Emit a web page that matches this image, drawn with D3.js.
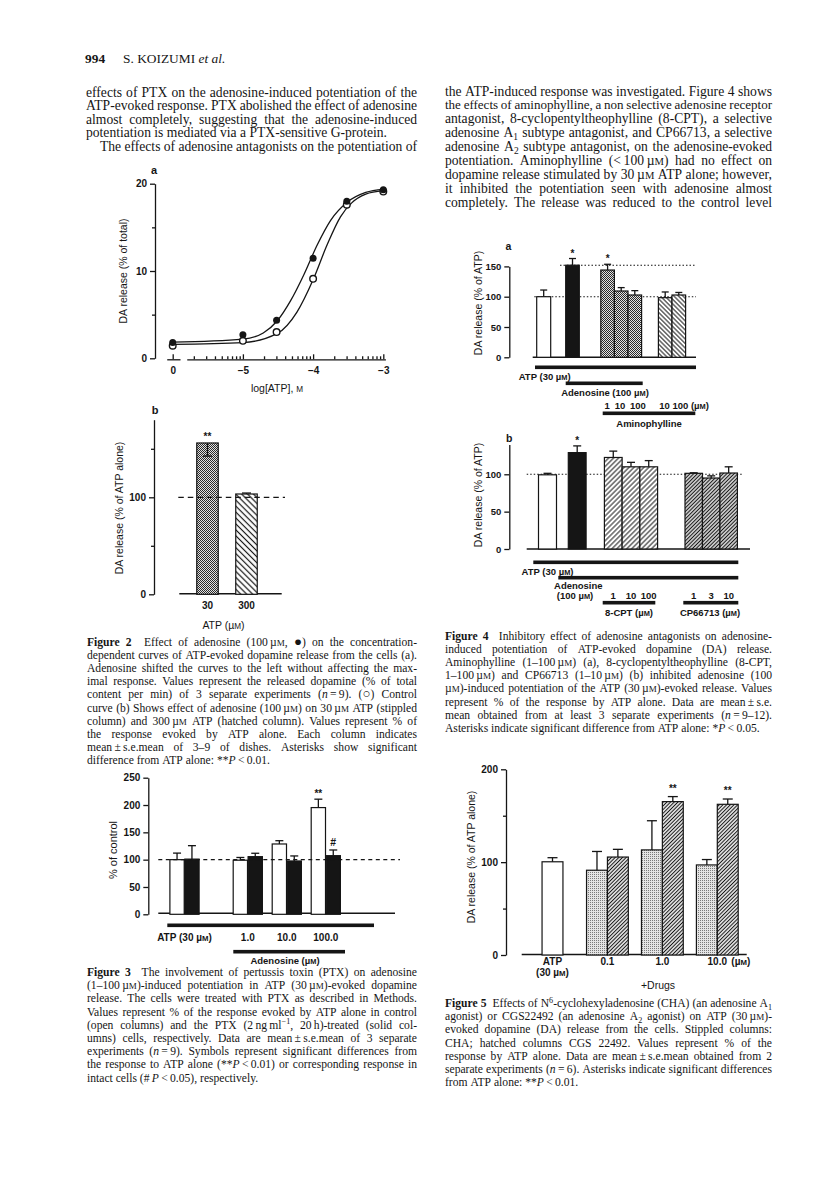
<!DOCTYPE html>
<html><head><meta charset="utf-8">
<script src="https://cdn.jsdelivr.net/npm/d3@7"></script>
<style>body{margin:0;background:#fff}svg{display:block}</style>
</head><body><svg id="page" width="816" height="1182"></svg>
<script>
// ================= DATA =================
const headerPage = "994";
const headerAuthor = "S. KOIZUMI <i>et al.</i>";

const leftBodyLines = [
 "effects of PTX on the adenosine-induced potentiation of the",
 "ATP-evoked response. PTX abolished the effect of adenosine",
 "almost completely, suggesting that the adenosine-induced",
 "potentiation is mediated via a PTX-sensitive G-protein.",
 "The effects of adenosine antagonists on the potentiation of"
];
const rightBodyLines = [
 "the ATP-induced response was investigated. Figure 4 shows",
 "the effects of aminophylline, a non selective adenosine receptor",
 "antagonist, 8-cyclopentyltheophylline (8-CPT), a selective",
 "adenosine A<sub>1</sub> subtype antagonist, and CP66713, a selective",
 "adenosine A<sub>2</sub> subtype antagonist, on the adenosine-evoked",
 "potentiation. Aminophylline (<\u2009100\u2009µ<sc>M</sc>) had no effect on",
 "dopamine release stimulated by 30\u2009µ<sc>M</sc> ATP alone; however,",
 "it inhibited the potentiation seen with adenosine almost",
 "completely. The release was reduced to the control level"
];
const fig2Caption = [
 "<b>Figure 2</b>  Effect of adenosine (100\u2009µ<sc>M</sc>, <big>\u25CF</big>) on the concentration-",
 "dependent curves of ATP-evoked dopamine release from the cells (a).",
 "Adenosine shifted the curves to the left without affecting the max-",
 "imal response. Values represent the released dopamine (% of total",
 "content per min) of 3 separate experiments (<i>n</i>\u2009=\u20099). (<big>\u25CB</big>) Control",
 "curve (b) Shows effect of adenosine (100\u2009µ<sc>M</sc>) on 30\u2009µ<sc>M</sc> ATP (stippled",
 "column) and 300\u2009µ<sc>M</sc> ATP (hatched column). Values represent % of",
 "the response evoked by ATP alone. Each column indicates",
 "mean\u2009±\u2009s.e.mean of 3\u20139 of dishes. Asterisks show significant",
 "difference from ATP alone: **<i>P</i>\u2009<\u20090.01."
];
const fig3Caption = [
 "<b>Figure 3</b>  The involvement of pertussis toxin (PTX) on adenosine",
 "(1\u2013100\u2009µ<sc>M</sc>)-induced potentiation in ATP (30\u2009µ<sc>M</sc>)-evoked dopamine",
 "release. The cells were treated with PTX as described in Methods.",
 "Values represent % of the response evoked by ATP alone in control",
 "(open columns) and the PTX (2\u2009ng\u2009ml<sup>\u22121</sup>, 20\u2009h)-treated (solid col-",
 "umns) cells, respectively. Data are mean\u2009±\u2009s.e.mean of 3 separate",
 "experiments (<i>n</i>\u2009=\u20099). Symbols represent significant differences from",
 "the response to ATP alone (**<i>P</i>\u2009<\u20090.01) or corresponding response in",
 "intact cells (#\u2009<i>P</i>\u2009<\u20090.05), respectively."
];
const fig4Caption = [
 "<b>Figure 4</b>  Inhibitory effect of adenosine antagonists on adenosine-",
 "induced potentiation of ATP-evoked dopamine (DA) release.",
 "Aminophylline (1\u2013100\u2009µ<sc>M</sc>) (a), 8-cyclopentyltheophylline (8-CPT,",
 "1\u2013100\u2009µ<sc>M</sc>) and CP66713 (1\u201310\u2009µ<sc>M</sc>) (b) inhibited adenosine (100",
 "µ<sc>M</sc>)-induced potentiation of the ATP (30\u2009µ<sc>M</sc>)-evoked release. Values",
 "represent % of the response by ATP alone. Data are mean\u2009±\u2009s.e.",
 "mean obtained from at least 3 separate experiments (<i>n</i>\u2009=\u20099\u201312).",
 "Asterisks indicate significant difference from ATP alone: *<i>P</i>\u2009<\u20090.05."
];
const fig5Caption = [
 "<b>Figure 5</b>  Effects of N<sup>6</sup>-cyclohexyladenosine (CHA) (an adenosine A<sub>1</sub>",
 "agonist) or CGS22492 (an adenosine A<sub>2</sub> agonist) on ATP (30\u2009µ<sc>M</sc>)-",
 "evoked dopamine (DA) release from the cells. Stippled columns:",
 "CHA; hatched columns CGS 22492. Values represent % of the",
 "response by ATP alone. Data are mean\u2009±\u2009s.e.mean obtained from 2",
 "separate experiments (<i>n</i>\u2009=\u20096). Asterisks indicate significant differences",
 "from ATP alone: **<i>P</i>\u2009<\u20090.01."
];

// Fig 2a (x = log[ATP]; the -6 position holds the zero-ATP point, labelled "0")
const fig2aLogATP    = [-6, -5, -4.52, -4, -3.52, -3];
const fig2aAdenosine = [1.8, 2.7, 4.35, 11.45, 18.0, 19.3];
const fig2aControl   = [1.45, 2.0, 3.0, 9.1, 17.6, 19.1];
const fig2aAdoFitX = [-6, -5, -4.71, -4.51, -4.32, -4.13, -3.94, -3.75, -3.51, -3.25, -3.0];
const fig2aAdoFitY = [1.85, 2.2, 2.9, 4.3, 6.6, 9.6, 13.0, 15.8, 17.9, 19.0, 19.35];
const fig2aCtlFitX = [-6, -5, -4.51, -4.23, -4.0, -3.8, -3.61, -3.45, -3.25, -3.0];
const fig2aCtlFitY = [1.6, 1.8, 2.85, 5.3, 9.0, 13.0, 16.2, 17.8, 18.8, 19.2];
const fig2aXTicks = [-6, -5, -4, -3];
const fig2aXTickLabels = ["0", "\u22125", "\u22124", "\u22123"];
const fig2aYTicks = [0, 10, 20];
const fig2aYMinor = [5, 15];

// Fig 2b
const fig2bCategories = ["30", "300"];
const fig2bValues = [156, 103.4];
const fig2bErrors = [13.5, 1.0];
const fig2bYTicks = [0, 100];
const fig2bYMinor = [50, 150];

// Fig 3
const fig3Groups = ["ATP (30 µM)", "1.0", "10.0", "100.0"];
const fig3Control    = [100, 99, 128.7, 195.3];
const fig3ControlErr = [12, 5, 6, 15.4];
const fig3PTX        = [101, 105.5, 97.6, 107.3];
const fig3PTXErr     = [24.6, 6.2, 9.2, 10.4];
const fig3YTicks = [0, 50, 100, 150, 200, 250];

// Fig 4a
const fig4aGroup  = ["ATP", "Ado", "Amino", "Amino", "Amino", "AminoAlone", "AminoAlone"];
const fig4aMember = ["-", "-", "1", "10", "100", "10", "100"];
const fig4aValues = [100, 152, 144, 109.4, 102.8, 98.4, 102.8];
const fig4aErrors = [11, 11, 9.5, 5.6, 7.2, 9.4, 4.2];
const fig4aStars  = ["", "*", "*", "", "", "", ""];
const fig4aYTicks = [0, 50, 100, 150];

// Fig 4b
const fig4bGroup  = ["ATP", "Ado", "CPT", "CPT", "CPT", "CP", "CP", "CP"];
const fig4bMember = ["-", "-", "1", "10", "100", "1", "3", "10"];
const fig4bValues = [99.3, 129, 122.5, 110, 110, 101.3, 95, 101.7];
const fig4bErrors = [2, 9, 8.5, 6, 8.3, 0.7, 2.9, 8.3];
const fig4bStars  = ["", "*", "", "", "", "", "", ""];
const fig4bYTicks = [0, 50, 100];

// Fig 5
const fig5Groups = ["ATP", "0.1", "1.0", "10.0"];
const fig5ATP = 100.4, fig5ATPErr = 4.4;
const fig5CHA    = [91.3, 113.2, 97];
const fig5CHAErr = [20.2, 31.4, 5.8];
const fig5CGS    = [105.5, 165.2, 162.3];
const fig5CGSErr = [8.3, 5.4, 5.7];
const fig5CGSStars = ["", "**", "**"];
const fig5YTicks = [0, 100, 200];
const fig5YMinor = [50, 150];

// ================= DRAWING =================
const SERIF = "'Liberation Serif','Times New Roman',Times,serif";
const SANS = "'Liberation Sans',Arial,Helvetica,sans-serif";
const INK = "#151515";
const svg = d3.select("#page");
svg.append("rect").attr("width", 816).attr("height", 1182).attr("fill", "#fff");
const defs = svg.append("defs");

function stipple(id, bg, dot, both) {
  const p = defs.append("pattern").attr("id", id).attr("patternUnits", "userSpaceOnUse").attr("width", 2).attr("height", 2);
  p.append("rect").attr("width", 2).attr("height", 2).attr("fill", bg);
  p.append("rect").attr("width", 1).attr("height", 1).attr("fill", dot);
  if (both) p.append("rect").attr("x", 1).attr("y", 1).attr("width", 1).attr("height", 1).attr("fill", dot);
}
function hatch(id, spacing, width, angle) {
  const p = defs.append("pattern").attr("id", id).attr("patternUnits", "userSpaceOnUse")
    .attr("width", spacing).attr("height", spacing).attr("patternTransform", `rotate(${angle})`);
  p.append("rect").attr("width", spacing).attr("height", spacing).attr("fill", "#fff");
  p.append("line").attr("x1", spacing / 2).attr("x2", spacing / 2).attr("y1", -1).attr("y2", spacing + 1)
    .attr("stroke", INK).attr("stroke-width", width);
}
stipple("stipA", "#e2e2e2", "#2a2a2a", true);
stipple("stipB", "#e4e4e4", "#7a7a7a", false);
hatch("hatch2b", 4.2, 1.2, -45);
hatch("hatch4a", 3.2, 1.0, -45);
hatch("hatch4bA", 3.5, 1.0, 45);
hatch("hatch4bB", 2.6, 1.3, 45);
hatch("hatch5", 2.6, 1.15, 45);

function parseRuns(s) {
  const runs = [], st = { i: 0, b: 0, sub: 0, sup: 0, sc: 0, big: 0 };
  const re = /<(\/?)(i|b|sub|sup|sc|big)>/g; let last = 0, m;
  while ((m = re.exec(s))) {
    if (m.index > last) runs.push(Object.assign({ t: s.slice(last, m.index) }, st));
    st[m[2]] = m[1] ? 0 : 1; last = re.lastIndex;
  }
  if (last < s.length) runs.push(Object.assign({ t: s.slice(last) }, st));
  return runs;
}
function fillRuns(t, runs, size) {
  let shift = 0;
  runs.forEach(r => {
    const ts = t.append("tspan").text(r.t);
    if (r.i) ts.attr("font-style", "italic");
    if (r.b) ts.attr("font-weight", "bold");
    let fs = size, target = 0;
    if (r.sub) { fs = size * 0.7; target = size * 0.22; }
    if (r.sup) { fs = size * 0.7; target = -size * 0.38; }
    if (r.sc) { fs = size * 0.78; }
    if (r.big) { fs = size * 1.15; }
    ts.attr("font-size", fs);
    if (target !== shift) { ts.attr("dy", target - shift); shift = target; }
  });
}
function textLine(g, s, x0, x1, y, size, justify, family) {
  const runs = parseRuns(s);
  const words = [[]];
  runs.forEach(r => r.t.split(" ").forEach((p, j) => {
    if (j > 0) words.push([]);
    if (p.length) words[words.length - 1].push(Object.assign({}, r, { t: p }));
  }));
  const build = sz => words.map(w => {
    const t = g.append("text").attr("y", y).attr("font-family", family).attr("font-size", sz).attr("fill", INK);
    fillRuns(t, w, sz);
    return t;
  });
  let els = build(size);
  let widths = els.map(e => e.node().getComputedTextLength());
  let total = d3.sum(widths);
  const n = els.length, avail = x1 - x0;
  if (justify && n > 1 && (avail - total) / (n - 1) < size * 0.2) {
    const sz = size * (avail - size * 0.2 * (n - 1)) / total;
    els.forEach(e => e.remove());
    els = build(sz);
    widths = els.map(e => e.node().getComputedTextLength());
    total = d3.sum(widths);
  }
  const gap = (justify && n > 1) ? (avail - total) / (n - 1) : size * 0.25;
  let x = x0;
  els.forEach((e, i) => { e.attr("x", x); x += widths[i] + gap; });
}
function paragraph(g, lines, x0, x1, y0, lh, size, opts) {
  opts = opts || {};
  lines.forEach((s, i) => {
    const last = (opts.lastUnjustified !== false) && i === lines.length - 1;
    const noJ = (opts.noJustify || []).includes(i) || last;
    const ind = (opts.indent && opts.indent[i]) || 0;
    textLine(g, s, x0 + ind, x1, y0 + i * lh, size, !noJ, SERIF);
  });
}
function label(g, x, y, s, size, anchor, weight, rotate) {
  const t = g.append("text").attr("font-family", SANS).attr("font-size", size).attr("fill", INK)
    .attr("text-anchor", anchor || "middle").attr("font-weight", weight || "normal");
  if (rotate) t.attr("transform", `translate(${x},${y}) rotate(-90)`);
  else t.attr("x", x).attr("y", y);
  fillRuns(t, parseRuns(s), size);
  return t;
}
function styleAxis(sel, size) {
  sel.selectAll("path,line").attr("stroke", INK).attr("stroke-width", 1.3);
  sel.selectAll("text").attr("font-family", SANS).attr("font-size", size || 10).attr("font-weight", "bold").attr("fill", INK);
}
function yAxis(g, x, scale, major, minor, size) {
  const a = g.append("g").attr("transform", `translate(${x},0)`)
    .call(d3.axisLeft(scale).tickValues(major).tickSize(5).tickSizeOuter(0).tickPadding(3).tickFormat(d3.format("d")));
  styleAxis(a, size);
  if (minor && minor.length) {
    const m = g.append("g").attr("transform", `translate(${x},0)`)
      .call(d3.axisLeft(scale).tickValues(minor).tickSize(3).tickFormat(""));
    m.select(".domain").remove(); styleAxis(m);
  }
}
function hline(g, x1, x2, y, dash, w) {
  const l = g.append("line").attr("x1", x1).attr("x2", x2).attr("y1", y).attr("y2", y)
    .attr("stroke", INK).attr("stroke-width", w || 1.3);
  if (dash) l.attr("stroke-dasharray", dash);
}
function bar(g, xc, w, y, v, fill) {
  g.append("rect").attr("x", xc - w / 2).attr("y", y(v)).attr("width", w).attr("height", y(0) - y(v))
    .attr("fill", fill).attr("stroke", INK).attr("stroke-width", 1.2);
}
function errBar(g, xc, y, v, e, cap, down) {
  const y1 = y(v), y2 = y(down ? v - e : v + e);
  g.append("line").attr("x1", xc).attr("x2", xc).attr("y1", y1).attr("y2", y2).attr("stroke", INK).attr("stroke-width", 1.3);
  g.append("line").attr("x1", xc - cap / 2).attr("x2", xc + cap / 2).attr("y1", y2).attr("y2", y2).attr("stroke", INK).attr("stroke-width", 1.3);
}
function thick(g, x1, x2, y) {
  g.append("rect").attr("x", x1).attr("y", y - 1.8).attr("width", x2 - x1).attr("height", 3.6).attr("fill", INK);
}

// ---------- page text ----------
const txt = svg.append("g");
txt.append("text").attr("x", 85).attr("y", 63).attr("font-family", SERIF).attr("font-size", 13.4)
  .attr("font-weight", "bold").attr("fill", INK).text(headerPage);
textLine(txt, headerAuthor, 123, 400, 63, 13.4, false, SERIF);
paragraph(txt, leftBodyLines, 86, 417, 97, 13.4, 13.6, { noJustify: [3], indent: { 4: 14 }, lastUnjustified: false });
paragraph(txt, rightBodyLines, 445, 772, 95.5, 13.9, 13.6, { lastUnjustified: false });
paragraph(txt, fig2Caption, 87, 417, 645.5, 13.2, 11.6);
paragraph(txt, fig3Caption, 87, 417, 976, 13.2, 11.6);
paragraph(txt, fig4Caption, 445, 772, 639.5, 13.2, 11.6);
paragraph(txt, fig5Caption, 445, 772, 1007, 13.2, 11.6);

// ---------- Figure 2a ----------
(function () {
  const g = svg.append("g");
  const x = d3.scaleLinear().domain([-6, -3]).range([172.7, 383.3]);
  const y = d3.scaleLinear().domain([0, 20]).range([358.3, 183.7]);
  yAxis(g, 155, y, fig2aYTicks, fig2aYMinor, 10);
  const axY = 359.3;
  const seg1 = x.copy().domain([-6.085, -5.896]).range([x(-6.085), x(-5.896)]);
  const a1 = g.append("g").attr("transform", `translate(0,${axY})`)
    .call(d3.axisBottom(seg1).tickValues([fig2aXTicks[0]]).tickSize(-5).tickSizeOuter(0).tickPadding(8)
      .tickFormat(() => fig2aXTickLabels[0]));
  styleAxis(a1, 10);
  const seg2 = x.copy().domain([-5.8, -2.97]).range([x(-5.8), x(-2.97)]);
  const a2 = g.append("g").attr("transform", `translate(0,${axY})`)
    .call(d3.axisBottom(seg2).tickValues(fig2aXTicks.slice(1)).tickSize(-5).tickSizeOuter(0).tickPadding(8)
      .tickFormat((d, i) => fig2aXTickLabels[i + 1]));
  styleAxis(a2, 10);
  const minor = [];
  [-6, -5, -4].forEach(d => d3.range(2, 10).forEach(k => { const v = d + Math.log10(k); if (v > -5.8 && v < -3) minor.push(v); }));
  const a3 = g.append("g").attr("transform", `translate(0,${axY})`)
    .call(d3.axisBottom(seg2).tickValues(minor).tickSize(-3).tickFormat(""));
  a3.select(".domain").remove(); styleAxis(a3);
  const line = d3.line().x(d => x(d[0])).y(d => y(d[1])).curve(d3.curveMonotoneX);
  g.append("path").attr("d", line(d3.zip(fig2aAdoFitX, fig2aAdoFitY))).attr("fill", "none").attr("stroke", INK).attr("stroke-width", 1.3);
  g.append("path").attr("d", line(d3.zip(fig2aCtlFitX, fig2aCtlFitY))).attr("fill", "none").attr("stroke", INK).attr("stroke-width", 1.3);
  g.selectAll("circle.c").data(d3.zip(fig2aLogATP, fig2aControl)).join("circle")
    .attr("cx", d => x(d[0])).attr("cy", d => y(d[1])).attr("r", 3.3).attr("fill", "#fff").attr("stroke", INK).attr("stroke-width", 1.4);
  g.selectAll("circle.a").data(d3.zip(fig2aLogATP, fig2aAdenosine)).join("circle")
    .attr("cx", d => x(d[0])).attr("cy", d => y(d[1])).attr("r", 3.5).attr("fill", INK);
  label(g, 154, 174, "a", 11, "middle", "bold");
  label(g, 277, 392, "log[ATP], <sc>M</sc>", 10.5);
  label(g, 127, 271, "DA release (% of total)", 10.5, "middle", "normal", true);
})();

// ---------- Figure 2b ----------
(function () {
  const g = svg.append("g");
  const y = d3.scaleLinear().domain([0, 180]).range([594.3, 419.7]);
  const x = d3.scalePoint().domain(fig2bCategories).range([207.5, 246.5]);
  yAxis(g, 154, y, fig2bYTicks, fig2bYMinor, 10);
  hline(g, 179.3, 281.7, y(0) - 0.5, null, 1.4);
  const fills = ["url(#stipA)", "url(#hatch2b)"];
  fig2bCategories.forEach((c, i) => bar(g, x(c), 21.5, y, fig2bValues[i], fills[i]));
  hline(g, 178.3, 285, y(100), "5.5,4", 1.2);
  errBar(g, x("30"), y, fig2bValues[0], fig2bErrors[0], 9, true);
  errBar(g, x("300"), y, fig2bValues[1], fig2bErrors[1], 9, false);
  label(g, x("30"), 439.5, "**", 10, "middle", "bold");
  fig2bCategories.forEach(c => label(g, x(c), 609, c, 10, "middle", "bold"));
  label(g, 223.5, 629, "ATP (µ<sc>M</sc>)", 10.5);
  label(g, 155, 414, "b", 11, "middle", "bold");
  label(g, 123, 508, "DA release (% of ATP alone)", 10.5, "middle", "normal", true);
})();

// ---------- Figure 3 ----------
(function () {
  const g = svg.append("g");
  const y = d3.scaleLinear().domain([0, 250]).range([914.3, 777.7]);
  const xg = d3.scaleOrdinal().domain(fig3Groups).range([184.5, 247.8, 286.8, 325.8]);
  const xi = d3.scaleBand().domain(["control", "ptx"]).range([-14.6, 14.6]).paddingInner(0.04);
  const bw = xi.bandwidth();
  yAxis(g, 148.3, y, fig3YTicks, [], 10);
  hline(g, 158.3, 395, y(0) - 1, null, 1.4);
  fig3Groups.forEach((gr, i) => {
    const xc = xg(gr) + xi("control") + bw / 2, xs = xg(gr) + xi("ptx") + bw / 2;
    bar(g, xc, bw, y, fig3Control[i], "#fff");
    bar(g, xs, bw, y, fig3PTX[i], INK);
    errBar(g, xc, y, fig3Control[i], fig3ControlErr[i], 8);
    errBar(g, xs, y, fig3PTX[i], fig3PTXErr[i], 8);
  });
  hline(g, 158.3, 400, y(100), "4,3.5", 1.1);
  const last = fig3Groups[3];
  label(g, xg(last) + xi("control") + bw / 2, 797, "**", 10, "middle", "bold");
  label(g, xg(last) + xi("ptx") + bw / 2, 845.5, "#", 10.5, "middle", "bold");
  thick(g, 167.3, 374, 925.3);
  thick(g, 233.3, 345, 951.7);
  fig3Groups.forEach(gr => label(g, xg(gr), 941, gr.replace("µM", "µ<sc>M</sc>"), 10, "middle", "bold"));
  label(g, 285, 964, "Adenosine (µ<sc>M</sc>)", 9.5, "middle", "bold");
  label(g, 117, 850, "% of control", 11, "middle", "normal", true);
})();

// ---------- Figure 4a ----------
(function () {
  const g = svg.append("g");
  const y = d3.scaleLinear().domain([0, 150]).range([357.3, 266.4]);
  const xg = d3.scaleOrdinal().domain(["ATP", "Ado", "Amino", "AminoAlone"]).range([543.7, 572.5, 621.2, 672]);
  const inner = {
    ATP: d3.scaleBand().domain(["-"]).range([-7, 7]),
    Ado: d3.scaleBand().domain(["-"]).range([-6.8, 6.8]),
    Amino: d3.scaleBand().domain(["1", "10", "100"]).range([-20.4, 20.4]),
    AminoAlone: d3.scaleBand().domain(["10", "100"]).range([-13.6, 13.6])
  };
  const fills = { ATP: "#fff", Ado: INK, Amino: "url(#stipA)", AminoAlone: "url(#hatch4a)" };
  yAxis(g, 509.3, y, fig4aYTicks, [], 9.5);
  hline(g, 532.7, 696, y(0), null, 1.4);
  hline(g, 534.3, 696, y(100), "1.5,2", 1.1);
  hline(g, 560, 696, y(fig4aValues[1]), "1.5,2", 1.1);
  const cx = i => xg(fig4aGroup[i]) + inner[fig4aGroup[i]](fig4aMember[i]) + inner[fig4aGroup[i]].bandwidth() / 2;
  fig4aValues.forEach((v, i) => {
    bar(g, cx(i), inner[fig4aGroup[i]].bandwidth(), y, v, fills[fig4aGroup[i]]);
    errBar(g, cx(i), y, v, fig4aErrors[i], 7);
    if (fig4aStars[i]) label(g, cx(i), y(v + fig4aErrors[i]) - 2, fig4aStars[i], 10, "middle", "bold");
  });
  label(g, 508.3, 250, "a", 10.5, "middle", "bold");
  label(g, 482, 303, "DA release (% of ATP)", 10.5, "middle", "normal", true);
  thick(g, 535, 696, 367.3);
  thick(g, 565.7, 642.7, 383.3);
  thick(g, 602.7, 695.3, 413.3);
  label(g, 544.7, 380, "ATP (30 µ<sc>M</sc>)", 9.5, "middle", "bold");
  label(g, 605, 396, "Adenosine (100 µ<sc>M</sc>)", 9.5, "middle", "bold");
  const amino = fig4aMember.filter((m, i) => fig4aGroup[i] === "Amino");
  const alone = fig4aMember.filter((m, i) => fig4aGroup[i] === "AminoAlone");
  label(g, cx(2) - 3, 409, amino.join("\u2002"), 9.5, "start", "bold");
  label(g, cx(5) - 6, 409, alone.join(" ") + " (µ<sc>M</sc>)", 9.5, "start", "bold");
  label(g, 649, 427, "Aminophylline", 9.5, "middle", "bold");
})();

// ---------- Figure 4b ----------
(function () {
  const g = svg.append("g");
  const y = d3.scaleLinear().domain([0, 140]).range([549, 444.4]);
  const xg = d3.scaleOrdinal().domain(["ATP", "Ado", "CPT", "CP"]).range([547.5, 577.2, 631, 711.2]);
  const inner = {
    ATP: d3.scaleBand().domain(["-"]).range([-9, 9]),
    Ado: d3.scaleBand().domain(["-"]).range([-8.9, 8.9]),
    CPT: d3.scaleBand().domain(["1", "10", "100"]).range([-26.6, 26.6]),
    CP: d3.scaleBand().domain(["1", "3", "10"]).range([-26.2, 26.2])
  };
  const fills = { ATP: "#fff", Ado: INK, CPT: "url(#hatch4bA)", CP: "url(#hatch4bB)" };
  yAxis(g, 509.3, y, fig4bYTicks, [], 9.5);
  hline(g, 526.7, 750, y(0), null, 1.4);
  hline(g, 526.7, 741.7, y(100), "1.5,2", 1.1);
  const cx = i => xg(fig4bGroup[i]) + inner[fig4bGroup[i]](fig4bMember[i]) + inner[fig4bGroup[i]].bandwidth() / 2;
  fig4bValues.forEach((v, i) => {
    bar(g, cx(i), inner[fig4bGroup[i]].bandwidth(), y, v, fills[fig4bGroup[i]]);
    errBar(g, cx(i), y, v, fig4bErrors[i], 8);
    if (fig4bStars[i]) label(g, cx(i), y(v + fig4bErrors[i]) - 2, fig4bStars[i], 10, "middle", "bold");
  });
  label(g, 509.3, 442, "b", 10.5, "middle", "bold");
  label(g, 482, 495, "DA release (% of ATP)", 10.5, "middle", "normal", true);
  thick(g, 533.3, 738.3, 562.3);
  thick(g, 558.3, 738.3, 577.7);
  thick(g, 602.7, 655.3, 602.7);
  thick(g, 683.3, 738.3, 602.7);
  label(g, 547.5, 574.5, "ATP (30 µ<sc>M</sc>)", 9.5, "middle", "bold");
  label(g, 578.3, 589, "Adenosine", 9.5, "middle", "bold");
  label(g, 575, 598.5, "(100 µ<sc>M</sc>)", 9.5, "middle", "bold");
  fig4bValues.forEach((v, i) => { if (fig4bGroup[i] === "CPT" || fig4bGroup[i] === "CP") label(g, cx(i), 598.5, fig4bMember[i], 9.5, "middle", "bold"); });
  label(g, 629, 616, "8-CPT (µ<sc>M</sc>)", 9.5, "middle", "bold");
  label(g, 710, 616, "CP66713 (µ<sc>M</sc>)", 9.5, "middle", "bold");
})();

// ---------- Figure 5 ----------
(function () {
  const g = svg.append("g");
  const y = d3.scaleLinear().domain([0, 200]).range([955, 769.3]);
  const xg = d3.scalePoint().domain(fig5Groups).range([552.5, 717.3]);
  const xi = d3.scaleBand().domain(["CHA", "CGS"]).range([-20.9, 20.9]);
  const bw = xi.bandwidth();
  yAxis(g, 506, y, fig5YTicks, fig5YMinor, 10);
  hline(g, 521.7, 746.7, y(0) - 0.5, null, 1.4);
  bar(g, xg("ATP"), bw, y, fig5ATP, "#fff");
  errBar(g, xg("ATP"), y, fig5ATP, fig5ATPErr, 10);
  fig5Groups.slice(1).forEach((gr, i) => {
    const xa = xg(gr) + xi("CHA") + bw / 2, xb = xg(gr) + xi("CGS") + bw / 2;
    bar(g, xa, bw, y, fig5CHA[i], "url(#stipB)");
    errBar(g, xa, y, fig5CHA[i], fig5CHAErr[i], 10);
    bar(g, xb, bw, y, fig5CGS[i], "url(#hatch5)");
    errBar(g, xb, y, fig5CGS[i], fig5CGSErr[i], 10);
    if (fig5CGSStars[i]) label(g, xb, y(fig5CGS[i] + fig5CGSErr[i]) - 5, fig5CGSStars[i], 10, "middle", "bold");
  });
  label(g, 475, 857, "DA release (% of ATP alone)", 10.5, "middle", "normal", true);
  label(g, xg("ATP"), 965, "ATP", 10, "middle", "bold");
  label(g, xg("ATP"), 976, "(30 µ<sc>M</sc>)", 10, "middle", "bold");
  fig5Groups.slice(1).forEach(gr => label(g, xg(gr), 965, gr, 10, "middle", "bold"));
  label(g, xg("10.0") + 14, 965, "(µ<sc>M</sc>)", 10, "start", "bold");
  label(g, 658, 989, "+Drugs", 10.5, "middle", "normal");
})();
</script>
</body></html>
